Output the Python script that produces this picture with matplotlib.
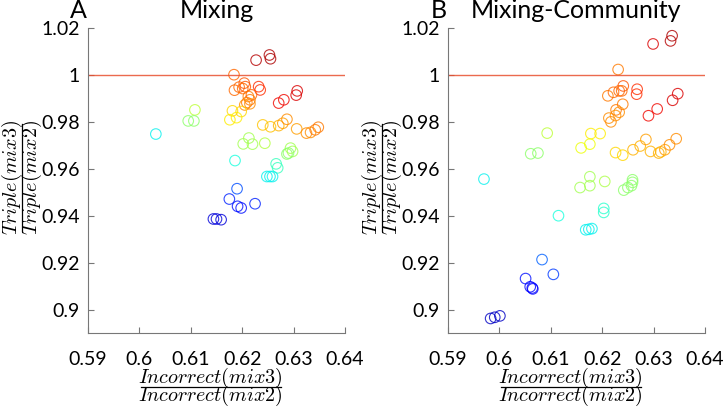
import numpy as np
import matplotlib
matplotlib.use("Agg")
import matplotlib.pyplot as plt

plt.rcParams['font.family'] = ['Lato', 'DejaVu Sans']
plt.rcParams['mathtext.fontset'] = 'cm'

# panel A: Mixing
a_x = [0.6227, 0.6253, 0.6255, 0.6184, 0.6185, 0.6194, 0.6204, 0.6206, 0.6201,
       0.6232, 0.6235, 0.6209, 0.6215, 0.6212, 0.6218, 0.6205, 0.6215,
       0.6271, 0.6281, 0.6305, 0.6307, 0.6181, 0.6198, 0.6176, 0.6189,
       0.6108, 0.6095, 0.6106, 0.6032, 0.6240, 0.6255, 0.6271, 0.6279, 0.6287,
       0.6306, 0.6325, 0.6333, 0.6342, 0.6348, 0.6202, 0.6213, 0.6220, 0.6244,
       0.6287, 0.6294, 0.6298, 0.6290, 0.6186, 0.6266, 0.6269,
       0.6248, 0.6254, 0.6259, 0.6190, 0.6175, 0.6191, 0.6198, 0.6225,
       0.6144, 0.6150, 0.6159]
a_y = [1.0063, 1.0085, 1.0069, 1.0001, 0.9935, 0.9948, 0.9965, 0.9950, 0.9942,
       0.9950, 0.9936, 0.9882, 0.9894, 0.9908, 0.9915, 0.9872, 0.9877,
       0.9880, 0.9894, 0.9914, 0.9932, 0.9847, 0.9844, 0.9809, 0.9818,
       0.9851, 0.9804, 0.9804, 0.9748, 0.9787, 0.9779, 0.9784, 0.9794, 0.9811,
       0.9770, 0.9752, 0.9755, 0.9766, 0.9777, 0.9706, 0.9731, 0.9705, 0.9709,
       0.9663, 0.9688, 0.9674, 0.9667, 0.9635, 0.9621, 0.9604,
       0.9567, 0.9567, 0.9567, 0.9515, 0.9471, 0.9440, 0.9433, 0.9451,
       0.9386, 0.9386, 0.9383]
a_c = [0.95, 0.96, 0.96, 0.80, 0.80, 0.80, 0.82, 0.82, 0.80,
       0.86, 0.86, 0.78, 0.78, 0.78, 0.80, 0.76, 0.76,
       0.90, 0.90, 0.92, 0.92, 0.68, 0.68, 0.66, 0.66,
       0.58, 0.52, 0.52, 0.36, 0.70, 0.70, 0.72, 0.74, 0.76,
       0.74, 0.76, 0.76, 0.78, 0.78, 0.55, 0.55, 0.55, 0.57,
       0.52, 0.55, 0.55, 0.52, 0.38, 0.42, 0.42,
       0.36, 0.36, 0.36, 0.20, 0.16, 0.14, 0.14, 0.16,
       0.08, 0.08, 0.08]

# panel B: Mixing-Community
b_x = [0.6299, 0.6333, 0.6336, 0.6231, 0.6211, 0.6222, 0.6233, 0.6241, 0.6238,
       0.6268, 0.6267, 0.6290, 0.6307, 0.6337, 0.6347,
       0.6240, 0.6227, 0.6233, 0.6226, 0.6213, 0.6217,
       0.6178, 0.6196, 0.6176, 0.6159, 0.6093, 0.6061, 0.6075, 0.5970,
       0.6226, 0.6240, 0.6260, 0.6274, 0.6285, 0.6294, 0.6310, 0.6314, 0.6322,
       0.6331, 0.6344, 0.6157, 0.6176, 0.6176, 0.6205,
       0.6242, 0.6250, 0.6257, 0.6259, 0.6259, 0.6115, 0.6203, 0.6203,
       0.6168, 0.6174, 0.6180, 0.6083, 0.6105, 0.6051, 0.6060, 0.6064, 0.6065,
       0.5983, 0.5991, 0.6001]
b_y = [1.0132, 1.0145, 1.0167, 1.0023, 0.9911, 0.9926, 0.9932, 0.9953, 0.9932,
       0.9939, 0.9918, 0.9826, 0.9855, 0.9892, 0.9920,
       0.9875, 0.9851, 0.9841, 0.9827, 0.9816, 0.9800,
       0.9750, 0.9750, 0.9705, 0.9689, 0.9752, 0.9664, 0.9667, 0.9556,
       0.9669, 0.9658, 0.9681, 0.9697, 0.9725, 0.9674, 0.9667, 0.9672, 0.9681,
       0.9702, 0.9728, 0.9520, 0.9528, 0.9566, 0.9546,
       0.9509, 0.9520, 0.9528, 0.9553, 0.9542, 0.9400, 0.9431, 0.9414,
       0.9340, 0.9342, 0.9345, 0.9213, 0.9150, 0.9132, 0.9097, 0.9092, 0.9088,
       0.8962, 0.8967, 0.8973]
b_c = [0.92, 0.95, 0.96, 0.78, 0.78, 0.80, 0.80, 0.82, 0.80,
       0.86, 0.86, 0.90, 0.90, 0.92, 0.92,
       0.78, 0.78, 0.76, 0.76, 0.76, 0.76,
       0.66, 0.66, 0.64, 0.64, 0.58, 0.52, 0.52, 0.36,
       0.68, 0.68, 0.72, 0.72, 0.74, 0.72, 0.72, 0.72, 0.74,
       0.76, 0.76, 0.55, 0.55, 0.55, 0.56,
       0.52, 0.52, 0.52, 0.52, 0.52, 0.38, 0.40, 0.40,
       0.36, 0.36, 0.36, 0.22, 0.18, 0.14, 0.12, 0.12, 0.12,
       0.06, 0.06, 0.06]

xticks = [0.59, 0.60, 0.61, 0.62, 0.63, 0.64]
xticklabels = ['0.59', '0.6', '0.61', '0.62', '0.63', '0.64']
yticks = [0.90, 0.92, 0.94, 0.96, 0.98, 1.00, 1.02]
yticklabels = ['0.9', '0.92', '0.94', '0.96', '0.98', '1', '1.02']

fig = plt.figure(figsize=(7.23, 4.07), dpi=100)
axA = fig.add_axes([0.1217, 0.1818, 0.3555, 0.7494])
axB = fig.add_axes([0.6196, 0.1818, 0.3555, 0.7494])

cmap = plt.get_cmap('jet')
panels = [(axA, a_x, a_y, a_c, 'A', 'Mixing'),
          (axB, b_x, b_y, b_c, 'B', 'Mixing-Community')]
for ax, x, y, c, letter, title in panels:
    ax.scatter(x, y, s=58, facecolors='none', edgecolors=cmap(np.array(c)),
               linewidths=0.8, alpha=0.8)
    ax.axhline(1.0, color='#e8502f', lw=1.0, alpha=0.85)
    ax.set_xlim(0.59, 0.64)
    ax.set_ylim(0.89, 1.02)
    ax.set_xticks(xticks)
    ax.set_xticklabels(xticklabels)
    ax.set_yticks(yticks)
    ax.set_yticklabels(yticklabels)
    for s in ['top', 'right']:
        ax.spines[s].set_visible(False)
    for s in ['left', 'bottom']:
        ax.spines[s].set_color('#777777')
        ax.spines[s].set_linewidth(0.8)
    ax.tick_params(direction='in', length=4, color='#777777', labelsize=14, pad=6)
    ax.tick_params(axis='x', pad=13)

    # x label as a stacked fraction
    tr = ax.transAxes
    ax.text(0.478, -0.146, r'$Incorrect(mix3)$', transform=tr, fontsize=14.5,
            ha='center', va='center')
    ax.plot([0.205, 0.751], [-0.177, -0.177], transform=tr, color='black',
            lw=0.9, clip_on=False)
    ax.text(0.478, -0.207, r'$Incorrect(mix2)$', transform=tr, fontsize=14.5,
            ha='center', va='center')
    # y label as a stacked fraction, rotated
    ax.text(-0.297, 0.51, r'$Triple(mix3)$', transform=tr, fontsize=14.5,
            ha='center', va='center', rotation=90)
    ax.plot([-0.256, -0.256], [0.335, 0.685], transform=tr, color='black',
            lw=0.9, clip_on=False)
    ax.text(-0.218, 0.51, r'$Triple(mix2)$', transform=tr, fontsize=14.5,
            ha='center', va='center', rotation=90)

    ax.text(-0.005, 1.033, letter, transform=tr, fontsize=18,
            ha='right', va='baseline')
    ax.text(0.5, 1.033, title, transform=tr, fontsize=18,
            ha='center', va='baseline')

fig.savefig('out.png', dpi=100)
